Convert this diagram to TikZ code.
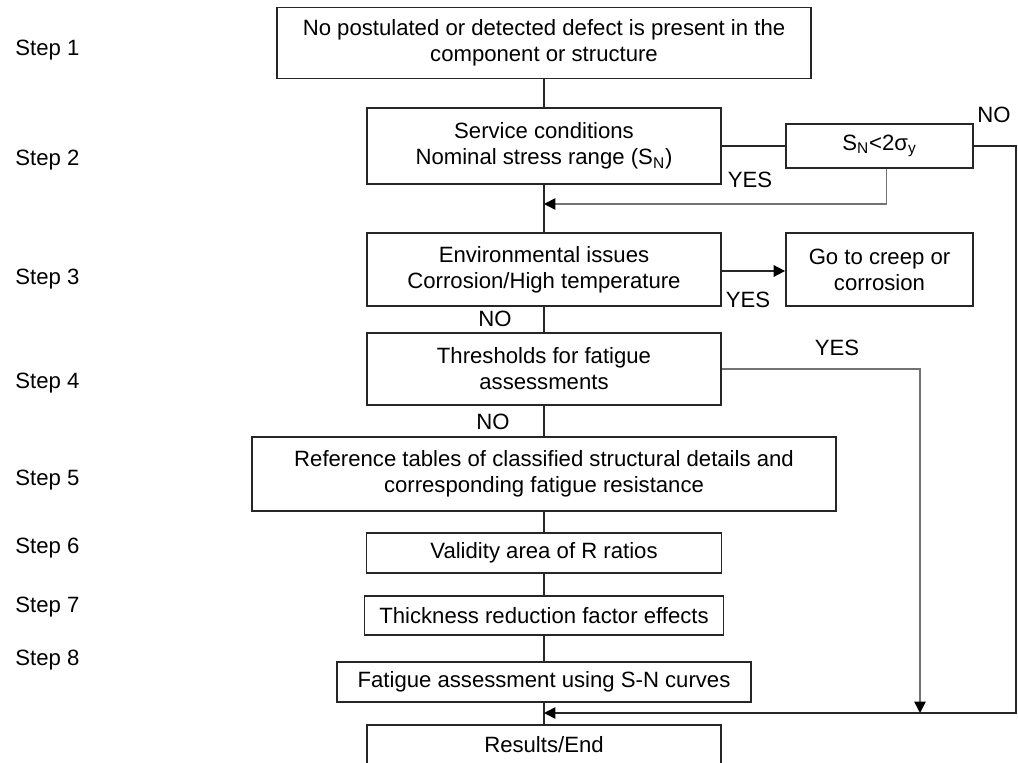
\documentclass[tikz,border=0pt]{standalone}
\usepackage{fontspec}
\setmainfont{Liberation Sans}
\usetikzlibrary{arrows.meta}
\tikzset{
  box/.style={draw=black!85, line width=1pt, align=center, inner sep=0pt,
    font=\fontsize{12.6}{14.8}\selectfont},
  lbl/.style={inner sep=0pt, font=\fontsize{12.6}{14.8}\selectfont},
  link/.style={draw=black!85, line width=0.9pt},
  back/.style={draw=black!55, line width=0.9pt},
  tip/.style={-{Triangle[length=6.5pt,width=6.5pt,color=black]}}
}
\begin{document}
\begin{tikzpicture}[x=0.02cm, y=-0.02cm]
    \clip (0,0) rectangle (1018,763);
    \fill[white] (0,0) rectangle (1018,763);
    % step labels
    \node[lbl, anchor=west] (s1) at (15,50) {Step 1};
    \node[lbl, anchor=west] (s2) at (15,160) {Step 2};
    \node[lbl, anchor=west] (s3) at (15,279) {Step 3};
    \node[lbl, anchor=west] (s4) at (15,383) {Step 4};
    \node[lbl, anchor=west] (s5) at (15,480) {Step 5};
    \node[lbl, anchor=west] (s6) at (15,548) {Step 6};
    \node[lbl, anchor=west] (s7) at (15,607) {Step 7};
    \node[lbl, anchor=west] (s8) at (15,660) {Step 8};
    % boxes
    \node[box, minimum width=10.68cm, minimum height=1.42cm] (defect) at (544,43)
      {No postulated or detected defect is present in the\\component or structure};
    \node[box, minimum width=7.08cm, minimum height=1.52cm] (service) at (544,146)
      {Service conditions\\Nominal stress range (S\textsubscript{N})};
    \node[box, minimum width=3.74cm, minimum height=0.88cm] (limit) at (879.5,146)
      {S\textsubscript{N}<2σ\textsubscript{y}};
    \node[box, minimum width=7.08cm, minimum height=1.46cm] (environ) at (544,269.5)
      {Environmental issues\\Corrosion/High temperature};
    \node[box, minimum width=3.74cm, minimum height=1.46cm] (creep) at (879.5,269.5)
      {Go to creep or\\corrosion};
    \node[box, minimum width=7.08cm, minimum height=1.44cm] (thresh) at (544,369)
      {Thresholds for fatigue\\assessments};
    \node[box, minimum width=11.68cm, minimum height=1.48cm] (tables) at (544,474)
      {Reference tables of classified structural details and\\corresponding fatigue resistance};
    \node[box, minimum width=7.10cm, minimum height=0.80cm] (ratios) at (544,553)
      {Validity area of R ratios};
    \node[box, minimum width=7.18cm, minimum height=0.78cm] (thick) at (544,615.5)
      {Thickness reduction factor effects};
    \node[box, minimum width=8.28cm, minimum height=0.80cm] (sncurve) at (544,682)
      {Fatigue assessment using S-N curves};
    \node[box, minimum width=7.08cm, minimum height=0.80cm] (result) at (544,745)
      {Results/End};
    % junctions
    \coordinate (j1) at (544,204);
    \coordinate (j2) at (920,713);
    \coordinate (j3) at (544,713);
    \coordinate (c1) at (1016,713);
    % main spine
    \draw[link] (defect.south) -- (service.north);
    \draw[link] (service.south) -- (environ.north);
    \draw[link] (environ.south) -- (thresh.north);
    \draw[link] (thresh.south) -- (tables.north);
    \draw[link] (tables.south) -- (ratios.north);
    \draw[link] (ratios.south) -- (thick.north);
    \draw[link] (thick.south) -- (sncurve.north);
    \draw[link] (sncurve.south) -- (result.north);
    % branches
    \draw[link] (service.east) -- (limit.west);
    \draw[back, tip] ([xshift=0.14cm]limit.south) |- (j1);
    \draw[link, tip] (environ.east |- 0,271) -- (creep.west |- 0,271);
    \draw[back, tip] (thresh.east) -| (j2);
    \draw[link, tip] (limit.east) -| (c1) -- (j3);
    % labels
    \node[lbl] (no1) at (994,115) {NO};
    \node[lbl] (yes1) at (750,180) {YES};
    \node[lbl] (yes2) at (748,300) {YES};
    \node[lbl] (no2) at (495,319) {NO};
    \node[lbl] (yes3) at (837,348) {YES};
    \node[lbl] (no3) at (493,422) {NO};
  \end{tikzpicture}
\end{document}
